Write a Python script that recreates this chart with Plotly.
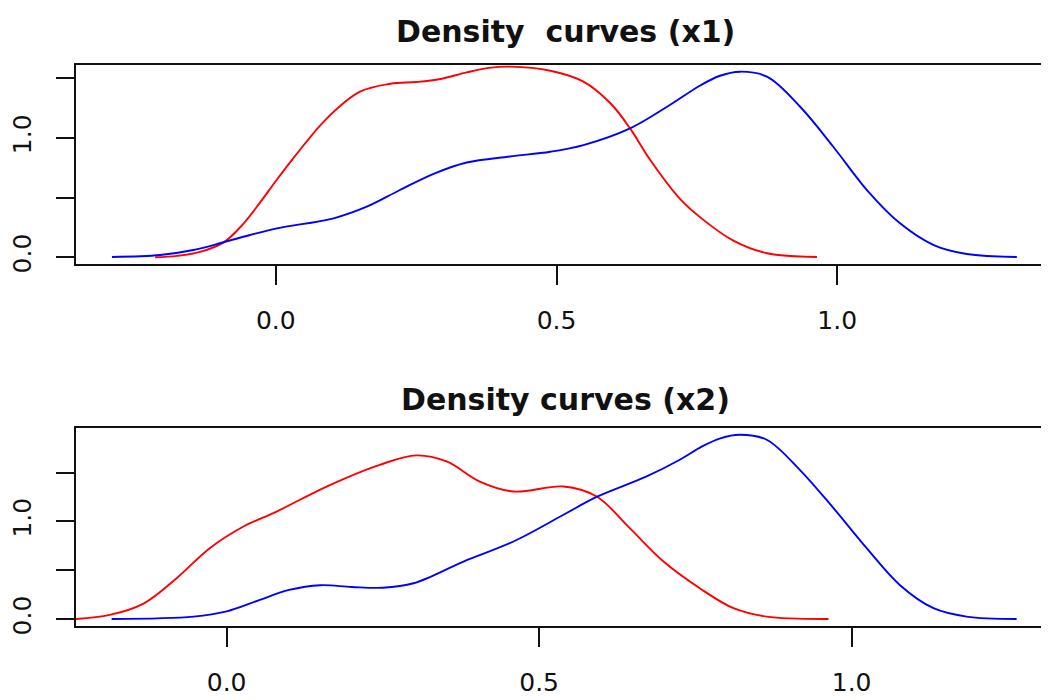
import plotly.graph_objects as go

# ---- data ----
# Panel 1 (x1)
x1_red_x = [-0.215, -0.176, -0.135, -0.093, -0.060, -0.028, 0.000, 0.031, 0.091, 0.150, 0.204,
            0.251, 0.293, 0.340, 0.380, 0.417, 0.489, 0.548, 0.596, 0.631, 0.667, 0.720, 0.760,
            0.815, 0.875, 0.964]
x1_red_y = [0.0, 0.012, 0.045, 0.125, 0.270, 0.460, 0.640, 0.830, 1.165, 1.388, 1.455,
            1.470, 1.495, 1.550, 1.588, 1.598, 1.564, 1.472, 1.291, 1.081, 0.816, 0.490, 0.320,
            0.140, 0.034, 0.003]
x1_blue_x = [-0.292, -0.206, -0.147, -0.093, -0.046, 0.002, 0.103, 0.162, 0.221, 0.281, 0.340,
             0.417, 0.489, 0.548, 0.631, 0.697, 0.756, 0.790, 0.827, 0.875, 0.934, 0.993,
             1.053, 1.112, 1.172, 1.231, 1.320]
x1_blue_y = [0.003, 0.019, 0.061, 0.126, 0.187, 0.243, 0.327, 0.424, 0.564, 0.700, 0.795,
             0.845, 0.885, 0.941, 1.081, 1.262, 1.440, 1.520, 1.556, 1.514, 1.262, 0.927,
             0.564, 0.285, 0.103, 0.028, 0.003]

# Panel 2 (x2)
x2_red_x = [-0.241, -0.187, -0.133, -0.080, -0.027, 0.027, 0.080, 0.160, 0.245, 0.304, 0.352,
            0.405, 0.459, 0.539, 0.592, 0.645, 0.699, 0.757, 0.811, 0.864, 0.963]
x2_red_y = [0.003, 0.044, 0.160, 0.420, 0.727, 0.948, 1.101, 1.357, 1.579, 1.675, 1.613,
            1.408, 1.306, 1.357, 1.255, 0.931, 0.590, 0.317, 0.113, 0.027, 0.003]
x2_blue_x = [-0.184, -0.053, 0.000, 0.050, 0.100, 0.150, 0.200, 0.250, 0.299, 0.379, 0.459,
             0.539, 0.592, 0.672, 0.725, 0.760, 0.790, 0.821, 0.864, 0.917, 0.971, 1.024,
             1.077, 1.131, 1.184, 1.264]
x2_blue_y = [0.002, 0.027, 0.080, 0.190, 0.300, 0.348, 0.330, 0.322, 0.368, 0.590, 0.795,
             1.068, 1.250, 1.460, 1.631, 1.765, 1.850, 1.886, 1.835, 1.528, 1.136, 0.727,
             0.351, 0.113, 0.027, 0.002]

titles = ["Density\u00a0 curves (x1)", "Density curves (x2)"]
x_tickvals = [0.0, 0.5, 1.0]
x_ticktext = ["0.0", "0.5", "1.0"]
y_tickvals = [0.0, 0.5, 1.0, 1.5]
y_ticktext = ["0.0", "", "1.0", ""]

FONT = "DejaVu Sans"
line_w = 1.9


def curve(xs, ys, color, xa, ya):
    return go.Scatter(x=xs, y=ys, mode="lines",
                      line=dict(color=color, width=line_w, shape="spline", smoothing=1.0),
                      xaxis=xa, yaxis=ya, hoverinfo="skip")


fig = go.Figure()
fig.add_trace(curve(x1_red_x, x1_red_y, "#ff0000", "x", "y"))
fig.add_trace(curve(x1_blue_x, x1_blue_y, "#0000ff", "x", "y"))
fig.add_trace(curve(x2_red_x, x2_red_y, "#ff0000", "x2", "y2"))
fig.add_trace(curve(x2_blue_x, x2_blue_y, "#0000ff", "x2", "y2"))

common_x = dict(showgrid=False, zeroline=False, showline=True, mirror=True, automargin=False,
                linecolor="#111111", linewidth=1.5, ticks="outside", ticklen=19,
                tickwidth=1.5, tickcolor="#111111", tickvals=x_tickvals, ticktext=x_ticktext,
                tickfont=dict(family=FONT, size=25, color="#111111"),
                ticklabelstandoff=14)
common_y = dict(showgrid=False, zeroline=False, showline=True, mirror=True, automargin=False,
                linecolor="#111111", linewidth=1.5, ticks="outside", ticklen=18,
                tickwidth=1.5, tickcolor="#111111", tickvals=y_tickvals, ticktext=y_ticktext,
                tickangle=-90, tickfont=dict(family=FONT, size=25, color="#111111"),
                ticklabelstandoff=15)

# the page body adds an 8px margin, so the figure is sized to fit the window
fig.update_layout(
    width=1041, height=692,
    margin=dict(l=68, r=3, t=57, b=74, autoexpand=False),
    paper_bgcolor="white", plot_bgcolor="white",
    showlegend=False,
    xaxis=dict(domain=[0, 1], range=[-0.356, 1.372], anchor="y", **common_x),
    yaxis=dict(domain=[0.6453, 1], range=[-0.056, 1.612], anchor="x", **common_y),
    xaxis2=dict(domain=[0, 1], range=[-0.241, 1.311], anchor="y2", **common_x),
    yaxis2=dict(domain=[0, 0.3529], range=[-0.069, 1.955], anchor="x2", **common_y),
    annotations=[
        dict(text=titles[0], xref="paper", yref="paper", x=0.505, y=1.059,
             xanchor="center", yanchor="middle", showarrow=False,
             font=dict(family=FONT, size=30, color="#111111", weight="bold")),
        dict(text=titles[1], xref="paper", yref="paper", x=0.505, y=0.4046,
             xanchor="center", yanchor="middle", showarrow=False,
             font=dict(family=FONT, size=30, color="#111111", weight="bold")),
    ],
)

fig.write_html("out.html")
